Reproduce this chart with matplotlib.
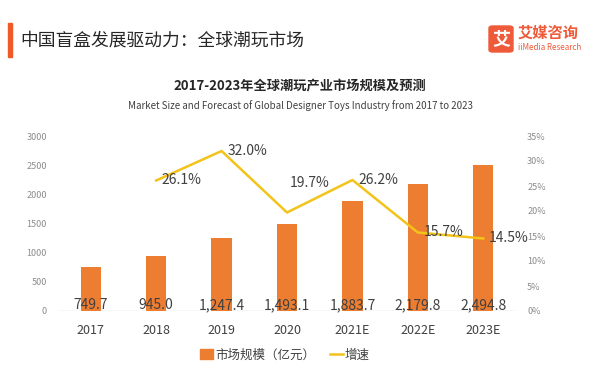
import matplotlib
matplotlib.use("Agg")
import matplotlib.pyplot as plt
from matplotlib.patches import Rectangle, FancyBboxPatch
from matplotlib.lines import Line2D

plt.rcParams['font.family'] = ['Noto Sans CJK SC', 'DejaVu Sans']

# data
years = ['2017', '2018', '2019', '2020', '2021E', '2022E', '2023E']
market_size = [749.7, 945.0, 1247.4, 1493.1, 1883.7, 2179.8, 2494.8]
growth_years = ['2018', '2019', '2020', '2021E', '2022E', '2023E']
growth_rate = [26.1, 32.0, 19.7, 26.2, 15.7, 14.5]
left_ticks = [0, 500, 1000, 1500, 2000, 2500, 3000]
right_ticks = [0, 5, 10, 15, 20, 25, 30, 35]

BAR_COLOR = '#ED7D31'
LINE_COLOR = '#F2C318'
TEXT_DARK = '#404040'
TICK_GRAY = '#8C8C8C'

fig = plt.figure(figsize=(6, 3.7), dpi=100)
fig.patch.set_facecolor('white')

# header
fig.patches.append(Rectangle((8 / 600, 1 - 57 / 370), 4 / 600, 34 / 370,
                             transform=fig.transFigure, color='#F05A28'))
fig.text(20 / 600, 1 - 41 / 370, '中国盲盒发展驱动力：全球潮玩市场',
         fontsize=12.8, fontweight='medium', color='#262626', va='center', ha='left')

# logo
fig.patches.append(FancyBboxPatch((489 / 600, 1 - 52 / 370), 24 / 600, 26 / 370,
                                  boxstyle='round,pad=0,rounding_size=0.006',
                                  transform=fig.transFigure, color='#EE5A3A'))
fig.text(501 / 600, 1 - 39 / 370, '艾', fontsize=13, color='white',
         fontweight='bold', ha='center', va='center')
fig.text(518 / 600, 1 - 33 / 370, '艾媒咨询', fontsize=11, color='#EE5A3A',
         fontweight='bold', ha='left', va='center')
fig.text(518 / 600, 1 - 48 / 370, 'iiMedia Research', fontsize=5.8,
         color='#EE5A3A', ha='left', va='center')

# chart titles
fig.text(0.5, 1 - 86 / 370, '2017-2023年全球潮玩产业市场规模及预测',
         fontsize=9.5, fontweight='bold', color='#262626', ha='center', va='center')
fig.text(0.5, 1 - 106 / 370,
         'Market Size and Forecast of Global Designer Toys Industry from 2017 to 2023',
         fontsize=7, color='#404040', ha='center', va='center')

ax = fig.add_axes([58 / 600, 1 - 311 / 370, 458 / 600, 175 / 370])
x = list(range(len(years)))
ax.bar(x, market_size, width=0.31, color=BAR_COLOR, zorder=2)
ax.set_xlim(-0.5, len(years) - 0.5)
ax.set_ylim(0, 3000)
ax.set_yticks(left_ticks)
ax.set_yticklabels([str(t) for t in left_ticks])
ax.set_xticks(x)
ax.set_xticklabels(years)
ax.tick_params(axis='y', length=0, labelsize=6.5, labelcolor=TICK_GRAY, pad=8)
ax.tick_params(axis='x', length=0, labelsize=9, labelcolor=TEXT_DARK, pad=9)
for s in ax.spines.values():
    s.set_visible(False)
ax.axhline(0, color='#D9D9D9', lw=1, zorder=1)

for xi, v in zip(x, market_size):
    ax.text(xi, 100, f'{v:,.1f}', ha='center', va='center',
            fontsize=10, color=TEXT_DARK, zorder=3)

ax2 = ax.twinx()
gx = [years.index(y) for y in growth_years]
ax2.plot(gx, growth_rate, color=LINE_COLOR, lw=1.8, zorder=3)
ax2.set_ylim(0, 35)
ax2.set_yticks(right_ticks)
ax2.set_yticklabels([f'{t}%' for t in right_ticks])
ax2.tick_params(axis='y', length=0, labelsize=6.5, labelcolor=TICK_GRAY, pad=8)
for s in ax2.spines.values():
    s.set_visible(False)

# label offsets in points (dx, dy)
label_offsets = [(4, 0), (4, 0), (2, 21), (4, 0), (4, 0), (4, 0)]
for xi, v, (dx, dy) in zip(gx, growth_rate, label_offsets):
    ax2.annotate(f'{v:.1f}%', (xi, v), xytext=(dx, dy), textcoords='offset points',
                 ha='left', va='center', fontsize=10, color=TEXT_DARK, zorder=4)

handles = [Rectangle((0, 0), 1, 1, color=BAR_COLOR),
           Line2D([0], [0], color=LINE_COLOR, lw=1.8)]
fig.legend(handles, ['市场规模（亿元）', '增速'], loc='center',
           bbox_to_anchor=(285 / 600, 1 - 355 / 370), ncol=2, frameon=False,
           fontsize=9, handlelength=1.0, handleheight=0.9, handletextpad=0.2,
           columnspacing=1.2, labelcolor=TEXT_DARK)

fig.savefig('out.png', dpi=100, facecolor='white')
